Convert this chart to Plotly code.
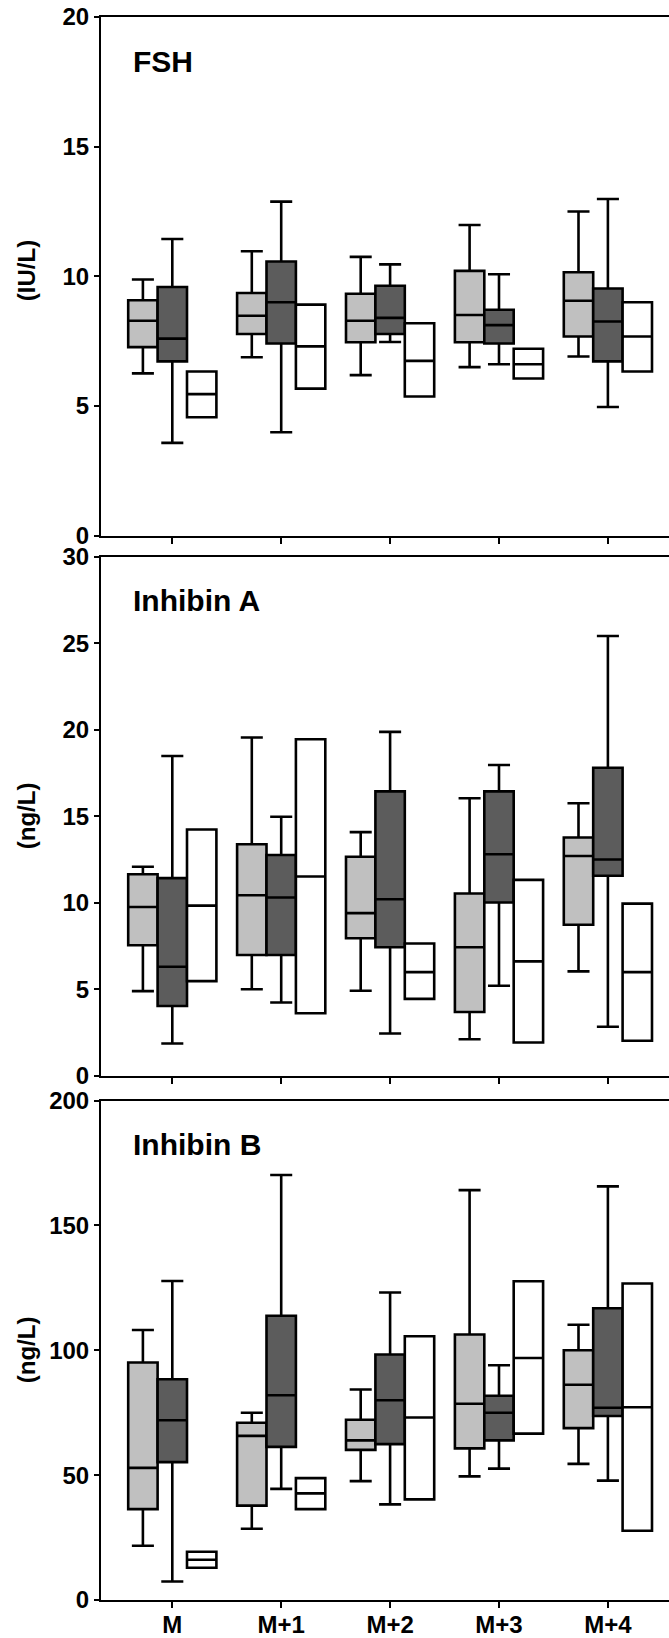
import plotly.graph_objects as go

categories = ["M", "M+1", "M+2", "M+3", "M+4"]

# FSH (IU/L)
fsh_light_lf = [6.26, 6.88, 6.19, 6.50, 6.91]
fsh_light_q1 = [7.27, 7.78, 7.46, 7.46, 7.68]
fsh_light_med = [8.29, 8.48, 8.29, 8.51, 9.06]
fsh_light_q3 = [9.08, 9.36, 9.33, 10.21, 10.16]
fsh_light_uf = [9.88, 10.97, 10.75, 11.98, 12.50]

fsh_dark_lf = [3.58, 3.99, 7.47, 6.61, 4.96]
fsh_dark_q1 = [6.72, 7.41, 7.78, 7.41, 6.72]
fsh_dark_med = [7.6, 9.0, 8.4, 8.12, 8.26]
fsh_dark_q3 = [9.59, 10.57, 9.64, 8.71, 9.53]
fsh_dark_uf = [11.44, 12.88, 10.46, 10.08, 12.98]

fsh_white_q1 = [4.57, 5.67, 5.37, 6.06, 6.33]
fsh_white_med = [5.46, 7.30, 6.74, 6.61, 7.68]
fsh_white_q3 = [6.33, 8.91, 8.19, 7.21, 9.00]

# Inhibin A (ng/L)
inha_light_lf = [4.89, 5.00, 4.91, 2.11, 6.03]
inha_light_q1 = [7.54, 6.98, 7.95, 3.68, 8.73]
inha_light_med = [9.75, 10.43, 9.40, 7.43, 12.70]
inha_light_q3 = [11.65, 13.38, 12.66, 10.53, 13.77]
inha_light_uf = [12.08, 19.55, 14.08, 16.04, 15.75]

inha_dark_lf = [1.86, 4.23, 2.44, 5.20, 2.83]
inha_dark_q1 = [4.03, 6.98, 7.43, 10.01, 11.56]
inha_dark_med = [6.3, 10.3, 10.2, 12.8, 12.5]
inha_dark_q3 = [11.42, 12.76, 16.44, 16.44, 17.80]
inha_dark_uf = [18.48, 14.97, 19.88, 17.96, 25.42]

inha_white_q1 = [5.47, 3.61, 4.44, 1.92, 2.02]
inha_white_med = [9.83, 11.52, 5.99, 6.61, 5.99]
inha_white_q3 = [14.23, 19.45, 7.64, 11.32, 9.95]

# Inhibin B (ng/L)
inhb_light_lf = [21.7, 28.5, 47.6, 49.5, 54.5]
inhb_light_q1 = [36.4, 37.8, 60.1, 60.7, 68.8]
inhb_light_med = [52.9, 65.7, 63.9, 78.6, 86.2]
inhb_light_q3 = [95.1, 71.0, 72.2, 106.3, 100.0]
inhb_light_uf = [108.1, 75.0, 84.3, 164.1, 110.2]

inhb_dark_lf = [7.4, 44.5, 38.3, 52.6, 47.8]
inhb_dark_q1 = [55.2, 61.3, 62.4, 63.9, 73.7]
inhb_dark_med = [72.0, 82.0, 80.0, 75.0, 77.0]
inhb_dark_q3 = [88.4, 113.8, 98.3, 81.8, 116.8]
inhb_dark_uf = [127.7, 170.2, 123.1, 94.0, 165.6]

inhb_white_q1 = [12.9, 36.4, 40.3, 66.6, 27.7]
inhb_white_med = [16.1, 42.7, 73.1, 96.9, 77.2]
inhb_white_q3 = [19.3, 48.8, 105.6, 127.6, 126.7]

panel_titles = ["FSH", "Inhibin A", "Inhibin B"]
y_titles = ["(IU/L)", "(ng/L)", "(ng/L)"]
y_ranges = [[0, 20], [0, 30], [0, 200]]
y_dticks = [5, 5, 50]

LIGHT = "#c0c0c0"
DARK = "#5c5c5c"
WHITE = "#ffffff"

panels = [
    [
        ("light", fsh_light_lf, fsh_light_q1, fsh_light_med, fsh_light_q3, fsh_light_uf, LIGHT),
        ("dark", fsh_dark_lf, fsh_dark_q1, fsh_dark_med, fsh_dark_q3, fsh_dark_uf, DARK),
        ("white", fsh_white_q1, fsh_white_q1, fsh_white_med, fsh_white_q3, fsh_white_q3, WHITE),
    ],
    [
        ("light", inha_light_lf, inha_light_q1, inha_light_med, inha_light_q3, inha_light_uf, LIGHT),
        ("dark", inha_dark_lf, inha_dark_q1, inha_dark_med, inha_dark_q3, inha_dark_uf, DARK),
        ("white", inha_white_q1, inha_white_q1, inha_white_med, inha_white_q3, inha_white_q3, WHITE),
    ],
    [
        ("light", inhb_light_lf, inhb_light_q1, inhb_light_med, inhb_light_q3, inhb_light_uf, LIGHT),
        ("dark", inhb_dark_lf, inhb_dark_q1, inhb_dark_med, inhb_dark_q3, inhb_dark_uf, DARK),
        ("white", inhb_white_q1, inhb_white_q1, inhb_white_med, inhb_white_q3, inhb_white_q3, WHITE),
    ],
]

W, H = 669, 1638
MT, MB, ML, MR = 17, 38, 101, 0
plot_w = W - ML - MR
plot_h = H - MT - MB

def py(pix):
    return (H - MB - pix) / plot_h

domains = [
    [py(535.7), 1.0],
    [py(1075.7), py(556.8)],
    [0.0, py(1100.5)],
]

FONT = "Liberation Sans, Arial, Helvetica, sans-serif"

fig = go.Figure()
for i, traces in enumerate(panels):
    suffix = "" if i == 0 else str(i + 1)
    for grp, lf, q1, med, q3, uf, color in traces:
        fig.add_trace(go.Box(
            x=categories, lowerfence=lf, q1=q1, median=med, q3=q3, upperfence=uf,
            fillcolor=color, line=dict(color="black", width=2.6),
            whiskerwidth=0.75, boxpoints=False, showlegend=False,
            offsetgroup=grp, alignmentgroup="panel%d" % i,
            xaxis="x" + suffix, yaxis="y" + suffix, hoverinfo="skip",
        ))

layout = dict(
    width=W, height=H,
    margin=dict(l=ML, r=MR, t=MT, b=MB),
    paper_bgcolor="white", plot_bgcolor="white",
    boxmode="group", boxgap=0.19, boxgroupgap=0.0,
    showlegend=False,
    annotations=[],
)

x_left = -(172.3 - ML) / 108.9
x_right = (W - 172.3) / 108.9

for i in range(3):
    suffix = "" if i == 0 else str(i + 1)
    layout["xaxis" + suffix] = dict(
        type="category", categoryorder="array", categoryarray=categories,
        range=[x_left, x_right], domain=[0, 1], anchor="y" + suffix,
        showline=True, linewidth=2, linecolor="black", mirror=True,
        ticks="outside", ticklen=6, tickwidth=2, tickcolor="black",
        showgrid=False, zeroline=False,
        showticklabels=(i == 2), ticklabelstandoff=-4,
        tickfont=dict(family=FONT, size=24, color="black", weight="bold"),
    )
    layout["yaxis" + suffix] = dict(
        range=y_ranges[i], dtick=y_dticks[i], tick0=0, domain=domains[i],
        anchor="x" + suffix,
        showline=True, linewidth=2, linecolor="black", mirror=False,
        ticks="outside", ticklen=5, tickwidth=2, tickcolor="black",
        showgrid=False, zeroline=False,
        tickfont=dict(family=FONT, size=24, color="black", weight="bold"),
    )
    layout["annotations"].append(dict(
        text=panel_titles[i], xref="paper", yref="y" + suffix + " domain",
        x=(131 - ML) / plot_w, y=[0.950, 0.952, 0.948][i],
        xanchor="left", yanchor="top", showarrow=False,
        font=dict(family=FONT, size=30, color="black", weight="bold"),
    ))
    layout["annotations"].append(dict(
        text=y_titles[i], xref="paper", yref="y" + suffix + " domain",
        x=(26 - ML) / plot_w, y=0.5 if i != 0 else 0.51,
        xanchor="center", yanchor="middle", textangle=-90, showarrow=False,
        font=dict(family=FONT, size=24, color="black", weight="bold"),
    ))

fig.update_layout(**layout)
fig.write_html(
    "out.html",
    config={"displayModeBar": False},
    post_script="document.body.style.margin='0px';document.body.style.overflow='hidden';",
)
